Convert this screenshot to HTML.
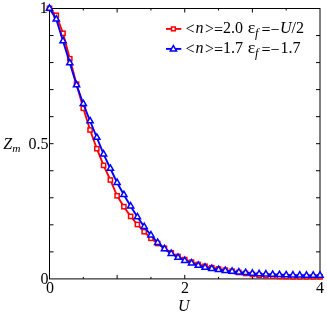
<!DOCTYPE html>
<html><head><meta charset="utf-8"><title>Zm vs U</title>
<style>
html,body{margin:0;padding:0;background:#fff;}
svg{display:block;will-change:transform;}
text{font-family:"Liberation Serif",serif;font-size:16px;fill:#000;}
.i{font-style:italic;}
.s{font-size:11.4px;font-style:italic;}
</style></head><body>
<svg width="327" height="318" viewBox="0 0 327 318">
<rect x="0" y="0" width="327" height="318" fill="#fff"/>

<g stroke="#000" stroke-width="1" fill="none">
<rect x="49.5" y="8.5" width="270.5" height="270.4"/>
<path d="M83.31 278.9v-2M83.31 8.5v2"/>
<path d="M117.12 278.9v-4M117.12 8.5v4"/>
<path d="M150.94 278.9v-2M150.94 8.5v2"/>
<path d="M184.75 278.9v-4M184.75 8.5v4"/>
<path d="M218.56 278.9v-2M218.56 8.5v2"/>
<path d="M252.38 278.9v-4M252.38 8.5v4"/>
<path d="M286.19 278.9v-2M286.19 8.5v2"/>
<path d="M49.5 251.86h4M320.0 251.86h-4"/>
<path d="M49.5 224.82h4M320.0 224.82h-4"/>
<path d="M49.5 197.78h4M320.0 197.78h-4"/>
<path d="M49.5 170.74h4M320.0 170.74h-4"/>
<path d="M49.5 143.70h4M320.0 143.70h-4"/>
<path d="M49.5 116.66h4M320.0 116.66h-4"/>
<path d="M49.5 89.62h4M320.0 89.62h-4"/>
<path d="M49.5 62.58h4M320.0 62.58h-4"/>
<path d="M49.5 35.54h4M320.0 35.54h-4"/>
</g>
<polyline points="49.50,8.40 56.26,15.30 63.02,33.30 69.79,58.70 76.55,84.20 83.31,108.30 90.08,130.00 96.84,148.70 103.60,165.40 110.36,180.00 117.12,195.80 123.89,206.70 130.65,216.40 137.41,224.50 144.18,231.70 150.94,238.30 157.70,243.50 164.46,248.30 171.22,252.80 177.99,256.50 184.75,259.60 191.51,262.20 198.28,264.50 205.04,266.30 211.80,267.70 218.56,269.00 225.32,270.20 232.09,271.30 238.85,272.44 245.61,273.47 252.38,274.41 259.14,275.25 265.90,275.75 272.66,276.15 279.43,276.45 286.19,276.65 292.95,276.85 299.71,276.85 306.48,276.85 313.24,276.85 320.00,276.85" fill="none" stroke="#f00" stroke-width="1.9" stroke-linejoin="round"/>
<rect x="47.40" y="6.30" width="4.2" height="4.2" fill="#fff" stroke="#f00" stroke-width="1.5"/>
<rect x="54.16" y="13.20" width="4.2" height="4.2" fill="#fff" stroke="#f00" stroke-width="1.5"/>
<rect x="60.92" y="31.20" width="4.2" height="4.2" fill="#fff" stroke="#f00" stroke-width="1.5"/>
<rect x="67.69" y="56.60" width="4.2" height="4.2" fill="#fff" stroke="#f00" stroke-width="1.5"/>
<rect x="74.45" y="82.10" width="4.2" height="4.2" fill="#fff" stroke="#f00" stroke-width="1.5"/>
<rect x="81.21" y="106.20" width="4.2" height="4.2" fill="#fff" stroke="#f00" stroke-width="1.5"/>
<rect x="87.98" y="127.90" width="4.2" height="4.2" fill="#fff" stroke="#f00" stroke-width="1.5"/>
<rect x="94.74" y="146.60" width="4.2" height="4.2" fill="#fff" stroke="#f00" stroke-width="1.5"/>
<rect x="101.50" y="163.30" width="4.2" height="4.2" fill="#fff" stroke="#f00" stroke-width="1.5"/>
<rect x="108.26" y="177.90" width="4.2" height="4.2" fill="#fff" stroke="#f00" stroke-width="1.5"/>
<rect x="115.03" y="193.70" width="4.2" height="4.2" fill="#fff" stroke="#f00" stroke-width="1.5"/>
<rect x="121.79" y="204.60" width="4.2" height="4.2" fill="#fff" stroke="#f00" stroke-width="1.5"/>
<rect x="128.55" y="214.30" width="4.2" height="4.2" fill="#fff" stroke="#f00" stroke-width="1.5"/>
<rect x="135.31" y="222.40" width="4.2" height="4.2" fill="#fff" stroke="#f00" stroke-width="1.5"/>
<rect x="142.08" y="229.60" width="4.2" height="4.2" fill="#fff" stroke="#f00" stroke-width="1.5"/>
<rect x="148.84" y="236.20" width="4.2" height="4.2" fill="#fff" stroke="#f00" stroke-width="1.5"/>
<rect x="155.60" y="241.40" width="4.2" height="4.2" fill="#fff" stroke="#f00" stroke-width="1.5"/>
<rect x="162.36" y="246.20" width="4.2" height="4.2" fill="#fff" stroke="#f00" stroke-width="1.5"/>
<rect x="169.12" y="250.70" width="4.2" height="4.2" fill="#fff" stroke="#f00" stroke-width="1.5"/>
<rect x="175.89" y="254.40" width="4.2" height="4.2" fill="#fff" stroke="#f00" stroke-width="1.5"/>
<rect x="182.65" y="257.50" width="4.2" height="4.2" fill="#fff" stroke="#f00" stroke-width="1.5"/>
<rect x="189.41" y="260.10" width="4.2" height="4.2" fill="#fff" stroke="#f00" stroke-width="1.5"/>
<rect x="196.18" y="262.40" width="4.2" height="4.2" fill="#fff" stroke="#f00" stroke-width="1.5"/>
<rect x="202.94" y="264.20" width="4.2" height="4.2" fill="#fff" stroke="#f00" stroke-width="1.5"/>
<rect x="209.70" y="265.60" width="4.2" height="4.2" fill="#fff" stroke="#f00" stroke-width="1.5"/>
<rect x="216.46" y="266.90" width="4.2" height="4.2" fill="#fff" stroke="#f00" stroke-width="1.5"/>
<rect x="223.22" y="268.10" width="4.2" height="4.2" fill="#fff" stroke="#f00" stroke-width="1.5"/>
<rect x="229.99" y="269.20" width="4.2" height="4.2" fill="#fff" stroke="#f00" stroke-width="1.5"/>
<rect x="236.75" y="270.34" width="4.2" height="4.2" fill="#fff" stroke="#f00" stroke-width="1.5"/>
<rect x="243.51" y="271.37" width="4.2" height="4.2" fill="#fff" stroke="#f00" stroke-width="1.5"/>
<rect x="250.28" y="272.31" width="4.2" height="4.2" fill="#fff" stroke="#f00" stroke-width="1.5"/>
<rect x="257.04" y="273.15" width="4.2" height="4.2" fill="#fff" stroke="#f00" stroke-width="1.5"/>
<rect x="263.80" y="273.65" width="4.2" height="4.2" fill="#fff" stroke="#f00" stroke-width="1.5"/>
<rect x="270.56" y="274.05" width="4.2" height="4.2" fill="#fff" stroke="#f00" stroke-width="1.5"/>
<rect x="277.32" y="274.35" width="4.2" height="4.2" fill="#fff" stroke="#f00" stroke-width="1.5"/>
<rect x="284.09" y="274.55" width="4.2" height="4.2" fill="#fff" stroke="#f00" stroke-width="1.5"/>
<rect x="290.85" y="274.75" width="4.2" height="4.2" fill="#fff" stroke="#f00" stroke-width="1.5"/>
<rect x="297.61" y="274.75" width="4.2" height="4.2" fill="#fff" stroke="#f00" stroke-width="1.5"/>
<rect x="304.38" y="274.75" width="4.2" height="4.2" fill="#fff" stroke="#f00" stroke-width="1.5"/>
<rect x="311.14" y="274.75" width="4.2" height="4.2" fill="#fff" stroke="#f00" stroke-width="1.5"/>
<rect x="317.90" y="274.75" width="4.2" height="4.2" fill="#fff" stroke="#f00" stroke-width="1.5"/>
<polyline points="49.50,8.40 56.26,19.30 63.02,41.00 69.79,63.00 76.55,85.00 83.31,103.80 90.08,121.00 96.84,137.50 103.60,154.20 110.36,168.50 117.12,182.70 123.89,194.80 130.65,206.20 137.41,217.00 144.18,226.80 150.94,235.20 157.70,242.70 164.46,248.90 171.22,253.60 177.99,257.50 184.75,260.60 191.51,263.20 198.28,265.50 205.04,267.40 211.80,268.70 218.56,269.80 225.32,270.70 232.09,271.40 238.85,272.10 245.61,272.80 252.38,273.40 259.14,273.90 265.90,274.20 272.66,274.50 279.43,274.80 286.19,275.00 292.95,275.20 299.71,275.30 306.48,275.40 313.24,275.40 320.00,275.40" fill="none" stroke="#00f" stroke-width="1.9" stroke-linejoin="round"/>
<path d="M49.50 4.82L52.60 10.19L46.40 10.19Z" fill="#fff" stroke="#00f" stroke-width="1.5" stroke-linejoin="miter"/>
<path d="M56.26 15.72L59.36 21.09L53.16 21.09Z" fill="#fff" stroke="#00f" stroke-width="1.5" stroke-linejoin="miter"/>
<path d="M63.02 37.42L66.12 42.79L59.92 42.79Z" fill="#fff" stroke="#00f" stroke-width="1.5" stroke-linejoin="miter"/>
<path d="M69.79 59.42L72.89 64.79L66.69 64.79Z" fill="#fff" stroke="#00f" stroke-width="1.5" stroke-linejoin="miter"/>
<path d="M76.55 81.42L79.65 86.79L73.45 86.79Z" fill="#fff" stroke="#00f" stroke-width="1.5" stroke-linejoin="miter"/>
<path d="M83.31 100.22L86.41 105.59L80.21 105.59Z" fill="#fff" stroke="#00f" stroke-width="1.5" stroke-linejoin="miter"/>
<path d="M90.08 117.42L93.17 122.79L86.98 122.79Z" fill="#fff" stroke="#00f" stroke-width="1.5" stroke-linejoin="miter"/>
<path d="M96.84 133.92L99.94 139.29L93.74 139.29Z" fill="#fff" stroke="#00f" stroke-width="1.5" stroke-linejoin="miter"/>
<path d="M103.60 150.62L106.70 155.99L100.50 155.99Z" fill="#fff" stroke="#00f" stroke-width="1.5" stroke-linejoin="miter"/>
<path d="M110.36 164.92L113.46 170.29L107.26 170.29Z" fill="#fff" stroke="#00f" stroke-width="1.5" stroke-linejoin="miter"/>
<path d="M117.12 179.12L120.22 184.49L114.03 184.49Z" fill="#fff" stroke="#00f" stroke-width="1.5" stroke-linejoin="miter"/>
<path d="M123.89 191.22L126.99 196.59L120.79 196.59Z" fill="#fff" stroke="#00f" stroke-width="1.5" stroke-linejoin="miter"/>
<path d="M130.65 202.62L133.75 207.99L127.55 207.99Z" fill="#fff" stroke="#00f" stroke-width="1.5" stroke-linejoin="miter"/>
<path d="M137.41 213.42L140.51 218.79L134.31 218.79Z" fill="#fff" stroke="#00f" stroke-width="1.5" stroke-linejoin="miter"/>
<path d="M144.18 223.22L147.28 228.59L141.08 228.59Z" fill="#fff" stroke="#00f" stroke-width="1.5" stroke-linejoin="miter"/>
<path d="M150.94 231.62L154.04 236.99L147.84 236.99Z" fill="#fff" stroke="#00f" stroke-width="1.5" stroke-linejoin="miter"/>
<path d="M157.70 239.12L160.80 244.49L154.60 244.49Z" fill="#fff" stroke="#00f" stroke-width="1.5" stroke-linejoin="miter"/>
<path d="M164.46 245.32L167.56 250.69L161.36 250.69Z" fill="#fff" stroke="#00f" stroke-width="1.5" stroke-linejoin="miter"/>
<path d="M171.22 250.02L174.32 255.39L168.12 255.39Z" fill="#fff" stroke="#00f" stroke-width="1.5" stroke-linejoin="miter"/>
<path d="M177.99 253.92L181.09 259.29L174.89 259.29Z" fill="#fff" stroke="#00f" stroke-width="1.5" stroke-linejoin="miter"/>
<path d="M184.75 257.02L187.85 262.39L181.65 262.39Z" fill="#fff" stroke="#00f" stroke-width="1.5" stroke-linejoin="miter"/>
<path d="M191.51 259.62L194.61 264.99L188.41 264.99Z" fill="#fff" stroke="#00f" stroke-width="1.5" stroke-linejoin="miter"/>
<path d="M198.28 261.92L201.38 267.29L195.18 267.29Z" fill="#fff" stroke="#00f" stroke-width="1.5" stroke-linejoin="miter"/>
<path d="M205.04 263.82L208.14 269.19L201.94 269.19Z" fill="#fff" stroke="#00f" stroke-width="1.5" stroke-linejoin="miter"/>
<path d="M211.80 265.12L214.90 270.49L208.70 270.49Z" fill="#fff" stroke="#00f" stroke-width="1.5" stroke-linejoin="miter"/>
<path d="M218.56 266.22L221.66 271.59L215.46 271.59Z" fill="#fff" stroke="#00f" stroke-width="1.5" stroke-linejoin="miter"/>
<path d="M225.32 267.12L228.42 272.49L222.22 272.49Z" fill="#fff" stroke="#00f" stroke-width="1.5" stroke-linejoin="miter"/>
<path d="M232.09 267.82L235.19 273.19L228.99 273.19Z" fill="#fff" stroke="#00f" stroke-width="1.5" stroke-linejoin="miter"/>
<path d="M238.85 268.52L241.95 273.89L235.75 273.89Z" fill="#fff" stroke="#00f" stroke-width="1.5" stroke-linejoin="miter"/>
<path d="M245.61 269.22L248.71 274.59L242.51 274.59Z" fill="#fff" stroke="#00f" stroke-width="1.5" stroke-linejoin="miter"/>
<path d="M252.38 269.82L255.47 275.19L249.28 275.19Z" fill="#fff" stroke="#00f" stroke-width="1.5" stroke-linejoin="miter"/>
<path d="M259.14 270.32L262.24 275.69L256.04 275.69Z" fill="#fff" stroke="#00f" stroke-width="1.5" stroke-linejoin="miter"/>
<path d="M265.90 270.62L269.00 275.99L262.80 275.99Z" fill="#fff" stroke="#00f" stroke-width="1.5" stroke-linejoin="miter"/>
<path d="M272.66 270.92L275.76 276.29L269.56 276.29Z" fill="#fff" stroke="#00f" stroke-width="1.5" stroke-linejoin="miter"/>
<path d="M279.43 271.22L282.53 276.59L276.32 276.59Z" fill="#fff" stroke="#00f" stroke-width="1.5" stroke-linejoin="miter"/>
<path d="M286.19 271.42L289.29 276.79L283.09 276.79Z" fill="#fff" stroke="#00f" stroke-width="1.5" stroke-linejoin="miter"/>
<path d="M292.95 271.62L296.05 276.99L289.85 276.99Z" fill="#fff" stroke="#00f" stroke-width="1.5" stroke-linejoin="miter"/>
<path d="M299.71 271.72L302.81 277.09L296.61 277.09Z" fill="#fff" stroke="#00f" stroke-width="1.5" stroke-linejoin="miter"/>
<path d="M306.48 271.82L309.58 277.19L303.38 277.19Z" fill="#fff" stroke="#00f" stroke-width="1.5" stroke-linejoin="miter"/>
<path d="M313.24 271.82L316.34 277.19L310.14 277.19Z" fill="#fff" stroke="#00f" stroke-width="1.5" stroke-linejoin="miter"/>
<path d="M320.00 271.82L323.10 277.19L316.90 277.19Z" fill="#fff" stroke="#00f" stroke-width="1.5" stroke-linejoin="miter"/>
<path d="M166 28.9h15.3" stroke="#f00" stroke-width="1.9"/>
<rect x="171.50" y="27.00" width="3.8" height="3.8" fill="#fff" stroke="#f00" stroke-width="1.5"/>
<path d="M166 48.9h15.3" stroke="#00f" stroke-width="1.9"/>
<path d="M173.40 45.52L176.50 50.89L170.30 50.89Z" fill="#fff" stroke="#00f" stroke-width="1.5" stroke-linejoin="miter"/>
<text x="185.6" y="33.8">&lt;</text><text x="195.6" y="33" class="i">n</text><text x="204.9" y="33.8">&gt;</text><text x="214" y="35">=</text><text x="223" y="33">2.0</text><text x="247.8" y="33" textLength="7.6" lengthAdjust="spacingAndGlyphs">ε</text><text x="255.1" y="36.9" class="i" style="font-size:12.4px">f</text><text x="261.4" y="35">=−</text>
<text x="279.9" y="33" class="i">U</text><text x="291.5" y="33">/2</text>
<text x="185.6" y="53.8">&lt;</text><text x="195.6" y="53" class="i">n</text><text x="204.9" y="53.8">&gt;</text><text x="214" y="55">=</text><text x="223" y="53">1.7</text><text x="247.8" y="53" textLength="7.6" lengthAdjust="spacingAndGlyphs">ε</text><text x="255.1" y="56.9" class="i" style="font-size:12.4px">f</text><text x="261.4" y="55">=−</text>
<text x="280.4" y="53">1.7</text>
<text x="47.8" y="13.3" text-anchor="end">1</text>
<text x="48.6" y="148.8" text-anchor="end">0.5</text>
<text x="48.4" y="284" text-anchor="end">0</text>
<text x="49.9" y="293.1" text-anchor="middle">0</text>
<text x="185" y="293.4" text-anchor="middle">2</text>
<text x="320" y="293.4" text-anchor="middle">4</text>
<text x="183.8" y="310.6" text-anchor="middle" class="i">U</text>
<text x="3.2" y="148.6" class="i">Z</text><text x="12.2" y="152.4" class="s">m</text>
</svg></body></html>
